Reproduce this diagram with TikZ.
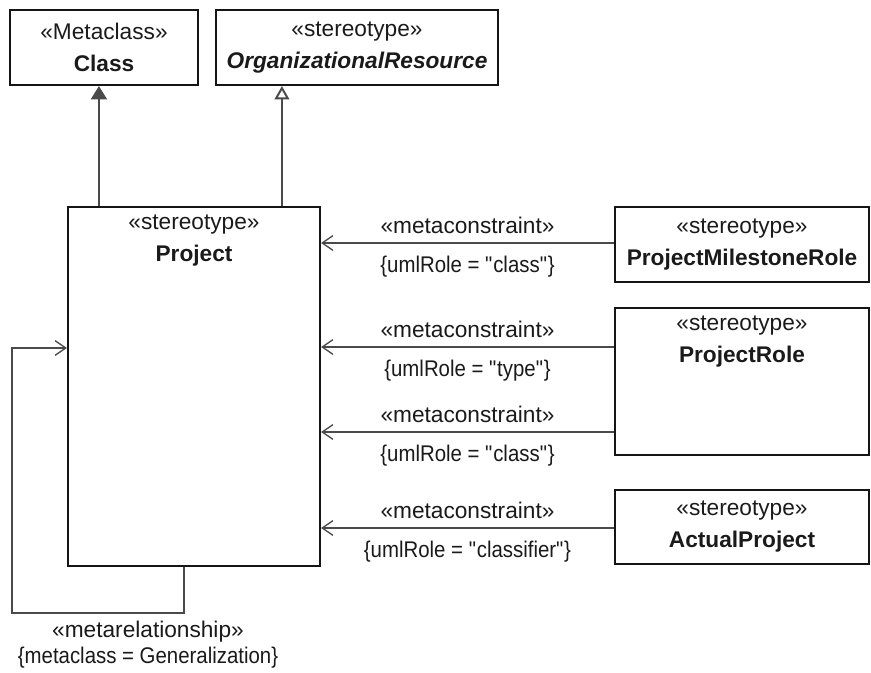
\documentclass[tikz,border=0pt]{standalone}
\usepackage{fontspec}
\setmainfont{Liberation Sans}
\newfontfamily\condfont[FakeStretch=0.9]{Liberation Sans}
\usetikzlibrary{
  arrows.meta,
  positioning,
  calc
}
\definecolor{boxStroke}{HTML}{151515}
\definecolor{lineStroke}{HTML}{4A4A4A}
\definecolor{txtMain}{HTML}{1A1A1A}
\tikzset{
  umlbox/.style={
    rectangle, align=center, inner sep=0pt,
    draw=boxStroke, line width=1.6pt, text=txtMain,
    font=\fontsize{17}{24}\selectfont
  },
  conn/.style={line width=1.5pt, draw=lineStroke},
  metaarr/.style={conn,
    -{Straight Barb[length=8pt,width=11pt,line width=1pt]}},
  clsarr/.style={conn,
    -{Triangle[length=10pt,width=12pt,fill=lineStroke]}},
  genarr/.style={conn,
    -{Triangle[open,length=10pt,width=11pt,fill=white]}},
  albl/.style={font=\fontsize{17}{20}\selectfont, text=txtMain, align=center},
  clbl/.style={font=\condfont\fontsize{17}{20}\selectfont, text=txtMain, align=center}
}

\begin{document}
\begin{tikzpicture}[x=0.75pt, y=-0.75pt]

    \useasboundingbox (0,0) rectangle (871,673);

    % top metaclass and parent stereotype
    \node[umlbox, minimum width=141pt, minimum height=56.25pt] (cls) at (104,47.5)
      {«Metaclass»\\\textbf{Class}};
    \node[umlbox, minimum width=211.5pt, minimum height=56.25pt] (orgres) at (357,47.5)
      {«stereotype»\\\textbf{\textit{OrganizationalResource}}};

    % the stereotype in the middle
    \node[umlbox, minimum width=189pt, minimum height=269.25pt] (proj) at (194,386.5) {};
    \node[umlbox, draw=none, anchor=north, yshift=-6pt] (projtxt) at (proj.north)
      {«stereotype»\\\textbf{Project}};

    % stereotypes on the right
    \node[umlbox, minimum width=190.5pt, minimum height=56.25pt] (pmr) at (742,244.5)
      {«stereotype»\\\textbf{ProjectMilestoneRole}};
    \node[umlbox, minimum width=190.5pt, minimum height=110.25pt] (prole) at (742,381.5) {};
    \node[umlbox, draw=none, anchor=north, yshift=-6pt] (proletxt) at (prole.north)
      {«stereotype»\\\textbf{ProjectRole}};
    \node[umlbox, minimum width=190.5pt, minimum height=55.5pt] (aproj) at (742,527)
      {«stereotype»\\\textbf{ActualProject}};

    % extension and generalization
    \coordinate (pc) at ($(proj.north west)+(32,0)$);
    \coordinate (pg) at ($(proj.north west)+(215,0)$);
    \draw[clsarr] (pc) -- (pc |- cls.south);
    \draw[genarr] (pg) -- (pg |- orgres.south);

    % metaconstraints
    \coordinate (m1) at (pmr.west |- 0,243);
    \coordinate (m2) at (prole.west |- 0,347);
    \coordinate (m3) at (prole.west |- 0,432);
    \coordinate (m4) at (aproj.west |- 0,528);
    \draw[metaarr] (m1) -- node[albl, above=3pt]{«metaconstraint»}
      node[clbl, below=6pt]{\{umlRole = \textquotedbl class\textquotedbl\}} (m1 -| proj.east);
    \draw[metaarr] (m2) -- node[albl, above=3pt]{«metaconstraint»}
      node[clbl, below=6pt]{\{umlRole = \textquotedbl type\textquotedbl\}} (m2 -| proj.east);
    \draw[metaarr] (m3) -- node[albl, above=3pt]{«metaconstraint»}
      node[clbl, below=6pt]{\{umlRole = \textquotedbl class\textquotedbl\}} (m3 -| proj.east);
    \draw[metaarr] (m4) -- node[albl, above=3pt]{«metaconstraint»}
      node[clbl, below=6pt]{\{umlRole = \textquotedbl classifier\textquotedbl\}} (m4 -| proj.east);

    % self relationship
    \coordinate (sb) at ($(proj.south west)+(117,0)$);
    \coordinate (sl) at (12,613);
    \coordinate (st) at (proj.west |- 0,348);
    \draw[metaarr] (sb) -- (sb |- sl) -- (sl) -- (sl |- st) -- (st);
    \node[albl] (mrel) at (148,632) {«metarelationship»};
    \node[clbl] (mcls) at (148,658) {\{metaclass = Generalization\}};

  \end{tikzpicture}
\end{document}
